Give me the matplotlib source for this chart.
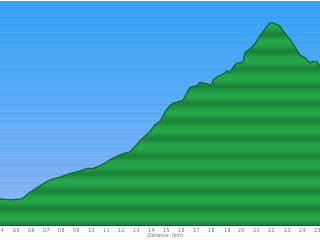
"""
Elevation profile chart (distance vs. elevation)
"""

import numpy as np
import matplotlib.pyplot as plt
from matplotlib.colors import LinearSegmentedColormap

###############################################################################
# Data
dist_km = [0.393, 0.460, 0.540, 0.573, 0.613, 0.659, 0.706, 0.746, 0.792, 0.839,
           0.878, 0.925, 0.971, 1.011, 1.058, 1.091, 1.124, 1.171, 1.211, 1.257,
           1.290, 1.324, 1.357, 1.390, 1.423, 1.457, 1.476, 1.503, 1.523, 1.543,
           1.569, 1.589, 1.609, 1.636, 1.656, 1.676, 1.702, 1.722, 1.742, 1.769,
           1.795, 1.809, 1.835, 1.875, 1.902, 1.922, 1.942, 1.968, 1.988, 2.008,
           2.021, 2.055, 2.088, 2.121, 2.154, 2.187, 2.207, 2.234, 2.254, 2.287,
           2.320, 2.354, 2.387, 2.420, 2.453, 2.473, 2.500, 2.520]
elev_m = [31, 30, 31, 36, 41, 46, 51, 54, 56, 59,
          61, 63, 66, 66, 69, 72, 76, 80, 83, 85,
          91, 98, 103, 108, 116, 120, 126, 134, 138, 141,
          142, 143, 144, 153, 159, 160, 161, 165, 164, 163,
          161, 167, 171, 174, 178, 176, 182, 187, 187, 188,
          199, 203, 209, 218, 226, 233, 233, 231, 229, 221,
          214, 205, 196, 193, 187, 189, 188, 183]
x_ticks = [0.4, 0.5, 0.6, 0.7, 0.8, 0.9, 1.0, 1.1, 1.2, 1.3, 1.4,
           1.5, 1.6, 1.7, 1.8, 1.9, 2.0, 2.1, 2.2, 2.3, 2.4, 2.5]

###############################################################################
# Plot
x0, x1 = 0.3934, 2.5196
y0, y1 = 0, 258

fig = plt.figure(figsize=(3.2, 2.4), dpi=100)
ax = fig.add_axes([0, 14 / 240, 1, 225 / 240])
ax.set_xlim(x0, x1)
ax.set_ylim(y0, y1)

# Sky gradient
sky = LinearSegmentedColormap.from_list('sky', ['#92b5f1', '#62aef7', '#34a3f8'])
grad = np.linspace(0, 1, 256).reshape(-1, 1)
ax.imshow(grad, cmap=sky, origin='lower', aspect='auto',
          extent=[x0, x1, y0, y1], zorder=0)
for yy in range(10, 260, 10):
    ax.axhline(yy, color='#2060a0', alpha=0.12, lw=0.8, zorder=1)

# Banded green fill
yy = np.linspace(y0, y1, 1000)
f = ((1 + np.cos(2 * np.pi * yy / 20)) / 2) ** 1.5
light = np.array([0.14, 0.65, 0.29])
dark = np.array([0.11, 0.52, 0.23])
band = light[None, :] + (dark - light)[None, :] * f[:, None]
img = ax.imshow(band[:, None, :], origin='lower', aspect='auto',
                extent=[x0, x1, y0, y1], zorder=2)
poly = ax.fill_between(dist_km, elev_m, y0, color='none', lw=0)
img.set_clip_path(poly.get_paths()[0], transform=ax.transData)
ax.plot(dist_km, elev_m, color='#17632d', lw=0.9, zorder=3)

ax.axhline(y0, color='#14552a', lw=1.2, zorder=4)

# Axes
for s in ax.spines.values():
    s.set_visible(False)
ax.set_yticks([])
ax.set_xticks(x_ticks)
ax.set_xticklabels([f'{t:.1f}' for t in x_ticks], fontsize=3.4, color='#666666')
ax.tick_params(axis='x', length=0, pad=1.5)
fig.text(166 / 320, 2.5 / 240, 'Distance  (km)', fontsize=3.4, color='#666666',
         ha='center', va='bottom')

fig.patch.set_facecolor('white')
plt.savefig('out.png', dpi=100)
plt.close()
